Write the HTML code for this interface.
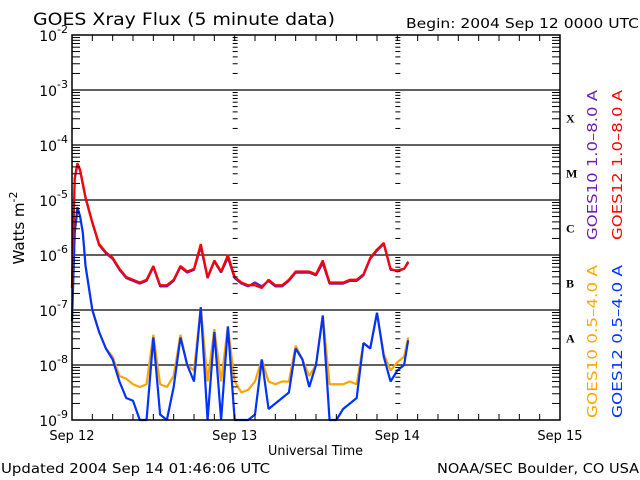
<!DOCTYPE html>
<html><head><meta charset="utf-8"><style>
body{margin:0;background:#fff;width:640px;height:480px;overflow:hidden}
svg{display:block;font-family:"DejaVu Sans","Liberation Sans",sans-serif}
</style></head><body>
<svg id="chart" width="640" height="480" viewBox="0 0 640 480">
<text x="33" y="25" font-size="17" textLength="302" lengthAdjust="spacingAndGlyphs" fill="#000">GOES Xray Flux (5 minute data)</text>
<text x="406" y="28" font-size="13" textLength="233" lengthAdjust="spacingAndGlyphs" fill="#000">Begin:  2004 Sep 12 0000 UTC</text>
<text x="1" y="473" font-size="13" textLength="269" lengthAdjust="spacingAndGlyphs" fill="#000">Updated 2004 Sep 14 01:46:06 UTC</text>
<text x="437" y="473" font-size="13" textLength="202" lengthAdjust="spacingAndGlyphs" fill="#000">NOAA/SEC Boulder, CO USA</text>
<text x="268" y="455" font-size="13" textLength="95" lengthAdjust="spacingAndGlyphs" fill="#000">Universal Time</text>
<text transform="translate(24,228) rotate(-90)" font-size="15" text-anchor="middle" fill="#000">Watts m<tspan dy="-7" font-size="11">-2</tspan></text>
<g id="grid"></g><g id="series"></g><g id="axes"></g>
<text transform="translate(597,240) rotate(-90)" font-size="13" textLength="150" lengthAdjust="spacingAndGlyphs" fill="#6a1fb0">GOES10 1.0–8.0 A</text>
<text transform="translate(622,240) rotate(-90)" font-size="13" textLength="150" lengthAdjust="spacingAndGlyphs" fill="#ff0000">GOES12 1.0–8.0 A</text>
<text transform="translate(597,418) rotate(-90)" font-size="13" textLength="153" lengthAdjust="spacingAndGlyphs" fill="#ffa500">GOES10 0.5–4.0 A</text>
<text transform="translate(622,418) rotate(-90)" font-size="13" textLength="153" lengthAdjust="spacingAndGlyphs" fill="#0033ff">GOES12 0.5–4.0 A</text>
</svg>
<script>
const times=[0,0.4,0.8,1.2,1.6,2,3,4,5,6,7,8,9,10,11,12,13,14,15,16,17,18,19,20,21,22,23,24,25,26,27,28,29,30,31,32,33,34,35,36,37,38,39,40,41,42,43,44,45,46,47,48,49,49.6];
const goes12Long=[-6.6,-4.6,-4.33,-4.45,-4.7,-4.95,-5.4,-5.8,-5.95,-6.05,-6.25,-6.4,-6.45,-6.5,-6.45,-6.2,-6.55,-6.55,-6.45,-6.2,-6.3,-6.25,-5.8,-6.4,-6.1,-6.3,-6.0,-6.4,-6.5,-6.55,-6.55,-6.6,-6.45,-6.55,-6.55,-6.45,-6.3,-6.3,-6.3,-6.35,-6.1,-6.5,-6.5,-6.5,-6.45,-6.45,-6.35,-6.05,-5.9,-5.78,-6.25,-6.3,-6.25,-6.12];
const goes10Long=[-6.6,-4.62,-4.35,-4.47,-4.72,-4.97,-5.42,-5.82,-5.97,-6.07,-6.27,-6.42,-6.47,-6.52,-6.47,-6.22,-6.57,-6.57,-6.47,-6.22,-6.32,-6.27,-5.85,-6.42,-6.12,-6.32,-6.05,-6.42,-6.52,-6.57,-6.5,-6.57,-6.47,-6.57,-6.57,-6.47,-6.32,-6.32,-6.32,-6.37,-6.15,-6.52,-6.52,-6.52,-6.47,-6.47,-6.37,-6.07,-5.92,-5.8,-6.27,-6.28,-6.25,-6.14];
const goes12Short=[-7.2,-5.6,-5.13,-5.3,-5.6,-6.2,-7.0,-7.4,-7.7,-7.9,-8.3,-8.6,-8.65,-9.3,-9.2,-7.5,-8.9,-9.3,-8.4,-7.5,-8.0,-8.3,-6.95,-9.1,-7.4,-9.0,-7.3,-9.3,-9.2,-9.3,-8.9,-7.9,-8.8,-8.7,-8.6,-8.5,-7.7,-7.9,-8.4,-8.0,-7.1,-9.3,-9.0,-8.8,-8.7,-8.6,-7.6,-7.7,-7.05,-7.85,-8.3,-8.1,-8.0,-7.55];
const goes10Short=[-7.2,-5.6,-5.2,-5.3,-5.6,-6.2,-7.0,-7.4,-7.7,-7.85,-8.2,-8.25,-8.35,-8.4,-8.35,-7.45,-8.35,-8.4,-8.2,-7.45,-8.0,-8.1,-6.95,-8.3,-7.35,-8.3,-7.3,-8.3,-8.5,-8.45,-8.3,-7.9,-8.3,-8.35,-8.3,-8.3,-7.65,-7.9,-8.2,-8.0,-7.1,-8.35,-8.35,-8.35,-8.3,-8.35,-7.6,-7.7,-7.05,-7.8,-8.1,-7.95,-7.85,-7.5];
const dayLabels=["Sep 12","Sep 13","Sep 14","Sep 15"];
const decadeExps=[-2,-3,-4,-5,-6,-7,-8,-9];
const classLetters=["X","M","C","B","A"];
const X0=72,X1=560,Y0=35,Y1=420;
const xs=h=>X0+h*(X1-X0)/72;
const ys=l=>Y0+(-2-l)*(Y1-Y0)/7;
const NS="http://www.w3.org/2000/svg";
function mk(tag,attrs,parent){const e=document.createElementNS(NS,tag);for(const k in attrs)e.setAttribute(k,attrs[k]);parent.appendChild(e);return e;}
const grid=document.getElementById('grid'),axes=document.getElementById('axes'),ser=document.getElementById('series');
decadeExps.forEach((d,i)=>{
  const y=ys(d);
  if(i>0&&i<decadeExps.length-1){const l=mk('line',{x1:X0,x2:X1,y1:y,y2:y,stroke:'#000','stroke-width':1.3},grid);
  
  }
  const t=mk('text',{x:X0-4,y:y+6,'font-size':14,'text-anchor':'end'},axes);
  t.innerHTML='10<tspan dy="-8" font-size="11">'+d+'</tspan>';
  
  
  if(i<decadeExps.length-1){for(let m=2;m<10;m++){const yy=ys(d-1+Math.log10(m));
    mk('line',{x1:X0,x2:X0+8,y1:yy,y2:yy,stroke:'#000'},axes);
    mk('line',{x1:X1,x2:X1-8,y1:yy,y2:yy,stroke:'#000'},axes);
    [xs(24),xs(48)].forEach(xx=>mk('line',{x1:xx-2,x2:xx+3,y1:yy,y2:yy,stroke:'#000'},axes));
  }}
});
classLetters.forEach((c,i)=>{const t=mk('text',{x:566,y:ys(-3.5-i)+5,'font-size':12,'font-weight':'bold','font-family':'Liberation Serif, serif'},axes);
  t.textContent=c;
  
  });
const fr=mk('rect',{x:X0,y:Y0,width:X1-X0,height:Y1-Y0,fill:'none',stroke:'#000','stroke-width':1.5},axes);


for(let h=3;h<72;h+=3){const x=xs(h);
  mk('line',{x1:x,x2:x,y1:Y1,y2:Y1-6,stroke:'#000'},axes);
  mk('line',{x1:x,x2:x,y1:Y0,y2:Y0+6,stroke:'#000'},axes);}
dayLabels.forEach((d,i)=>{const t=mk('text',{x:xs(i*24),y:440,'font-size':13,'text-anchor':'middle'},axes);
  t.textContent=d;
  
  });
function draw(vals,color,name){
  let p='';
  vals.forEach((v,i)=>{const lv=Math.max(v,-9);const x=xs(times[i]),y=ys(lv);
    p+=(i===0?'M':'L')+x+','+y;});
  const e=mk('path',{d:p,fill:'none',stroke:color,'stroke-width':2.2,'stroke-linejoin':'bevel'},ser);
  
  
}
draw(goes10Short,'#ffa500','series-goes10-short');
draw(goes12Short,'#0033ff','series-goes12-short');
draw(goes10Long,'#6a1fb0','series-goes10-long');
draw(goes12Long,'#ff0000','series-goes12-long');
</script>
</body></html>
